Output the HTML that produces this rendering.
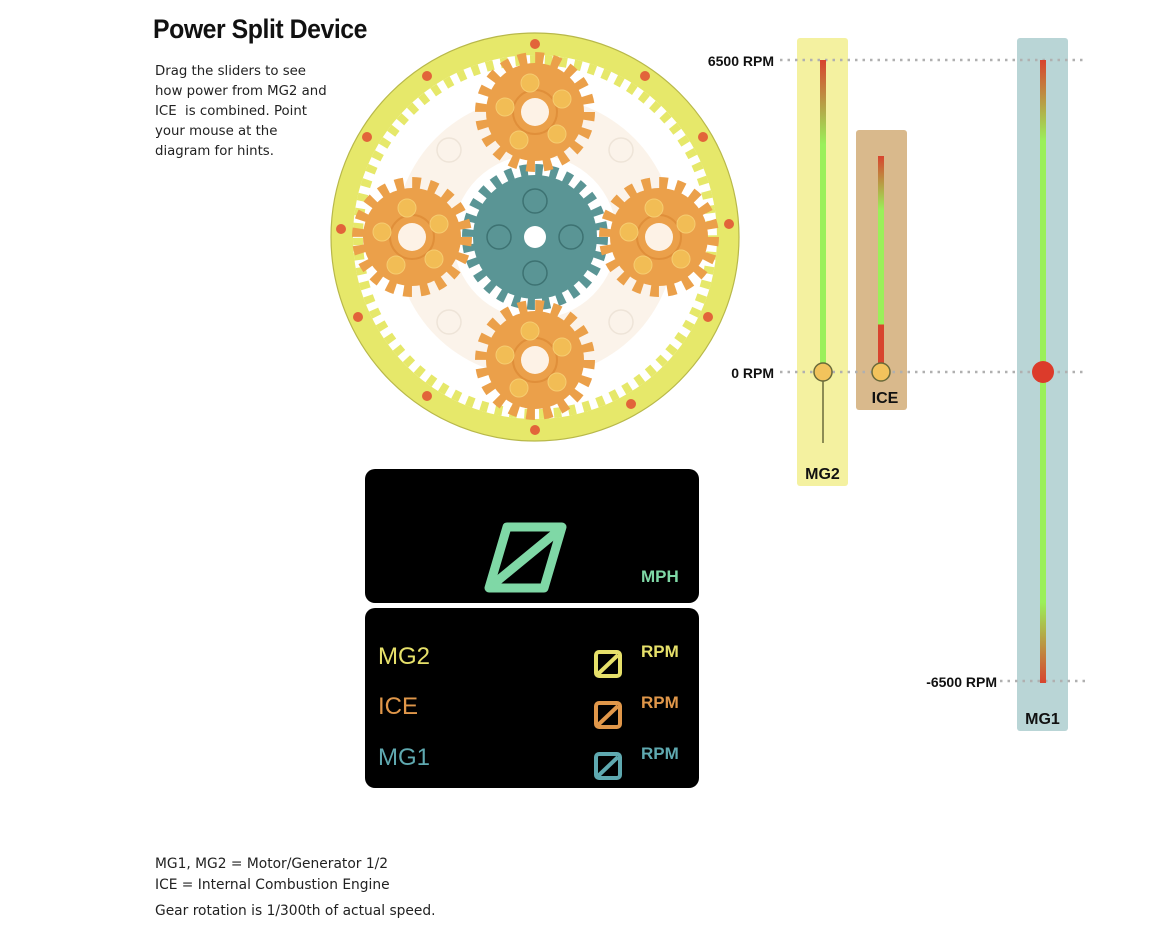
<!DOCTYPE html>
<html><head><meta charset="utf-8"><style>
body{margin:0;width:1170px;height:943px;background:#fff;position:relative;overflow:hidden;font-family:"Liberation Sans",sans-serif}
.a{position:absolute}
.t{font-family:"DejaVu Sans",sans-serif;font-size:13.8px;color:#222;line-height:20px}
.lab{font-weight:bold;font-size:14px;color:#111}
</style></head><body>
<div class="a" style="left:153px;top:14px;font-size:27px;font-weight:900;letter-spacing:-0.5px;transform:scaleX(0.92);transform-origin:left;color:#111">Power Split Device</div>
<div class="a t" style="left:155px;top:62px;width:176px;font-size:13.3px">Drag the sliders to see how power from MG2 and ICE&nbsp; is combined. Point your mouse at the diagram for hints.</div>

<svg class="a" style="left:0;top:0" width="1170" height="943">
<circle cx="535" cy="237" r="204" fill="#e6e86a" stroke="#b8b84a" stroke-width="1.2"/>
<circle cx="535" cy="237" r="182" fill="#fff"/>
<circle cx="535" cy="237" r="177" fill="none" stroke="#e6e86a" stroke-width="10" stroke-dasharray="7.4 7.4"/>
<g fill="#e2643a">
<circle cx="535" cy="44" r="5"/><circle cx="645" cy="76" r="5"/><circle cx="703" cy="137" r="5"/><circle cx="729" cy="224" r="5"/><circle cx="708" cy="317" r="5"/><circle cx="631" cy="404" r="5"/><circle cx="535" cy="430" r="5"/><circle cx="427" cy="396" r="5"/><circle cx="358" cy="317" r="5"/><circle cx="341" cy="229" r="5"/><circle cx="367" cy="137" r="5"/><circle cx="427" cy="76" r="5"/>
</g>
<circle cx="535" cy="237" r="140" fill="#fbf3ea"/>
<circle cx="535" cy="237" r="82" fill="#fff"/>
<g fill="none" stroke="#eee4d8" stroke-width="1.5">
<circle cx="449" cy="150" r="12"/><circle cx="621" cy="150" r="12"/><circle cx="449" cy="322" r="12"/><circle cx="621" cy="322" r="12"/></g>
<circle cx="535" cy="237" r="62" fill="#5a9595"/>
<circle cx="535" cy="237" r="67" fill="none" stroke="#5a9595" stroke-width="12" stroke-dasharray="7.52 7.52"/>
<g fill="none" stroke="#3d7272" stroke-width="1.5">
<circle cx="535" cy="201" r="12"/><circle cx="535" cy="273" r="12"/><circle cx="499" cy="237" r="12"/><circle cx="571" cy="237" r="12"/></g>
<circle cx="535" cy="237" r="11" fill="#fff"/>
<defs>
<g id="pl">
<circle r="49" fill="#eba04a"/>
<circle r="54" fill="none" stroke="#eba04a" stroke-width="12" stroke-dasharray="8.48 8.48"/>
<circle r="22" fill="none" stroke="#e08f3a" stroke-width="2"/>
<g fill="#f2bd55" stroke="#f6cc70" stroke-width="1"><circle cx="-5" cy="-29" r="9"/><circle cx="27" cy="-13" r="9"/><circle cx="22" cy="22" r="9"/><circle cx="-16" cy="28" r="9"/><circle cx="-30" cy="-5" r="9"/></g>
<circle r="14" fill="#fdf2e6"/>
</g></defs>
<use href="#pl" x="535" y="112"/><use href="#pl" x="412" y="237"/><use href="#pl" x="659" y="237"/><use href="#pl" x="535" y="360"/>

<defs>
<linearGradient id="g1" x1="0" y1="0" x2="0" y2="1"><stop offset="0" stop-color="#d8442e"/><stop offset="0.27" stop-color="#9af05a"/><stop offset="1" stop-color="#9af05a"/></linearGradient>
<linearGradient id="g2" x1="0" y1="0" x2="0" y2="1"><stop offset="0" stop-color="#d8442e"/><stop offset="0.25" stop-color="#9af05a"/><stop offset="0.78" stop-color="#9af05a"/><stop offset="0.78" stop-color="#d8442e"/><stop offset="1" stop-color="#d8442e"/></linearGradient>
<linearGradient id="g3" x1="0" y1="0" x2="0" y2="1"><stop offset="0" stop-color="#d8442e"/><stop offset="0.13" stop-color="#9af05a"/><stop offset="0.87" stop-color="#9af05a"/><stop offset="1" stop-color="#d8442e"/></linearGradient>
</defs>
<rect x="797" y="38" width="51" height="448" rx="3" fill="#f4f1a0"/>
<rect x="856" y="130" width="51" height="280" rx="3" fill="#d9b98c"/>
<rect x="1017" y="38" width="51" height="693" rx="3" fill="#b9d5d6"/>
<g stroke="#b0b0b0" stroke-width="2.5" stroke-dasharray="2.5 5">
<line x1="780" y1="60" x2="1085" y2="60"/><line x1="780" y1="372" x2="1085" y2="372"/><line x1="1000" y1="681" x2="1085" y2="681"/></g>
<rect x="820" y="60" width="6" height="312" fill="url(#g1)"/>
<line x1="823" y1="372" x2="823" y2="443" stroke="#6a6a3a" stroke-width="1.5"/>
<rect x="878" y="156" width="6" height="216" fill="url(#g2)"/>
<rect x="1040" y="60" width="6" height="623" fill="url(#g3)"/>
<circle cx="823" cy="372" r="9" fill="#f2c35c" stroke="#6a6a3a" stroke-width="1.5"/>
<circle cx="881" cy="372" r="9" fill="#f2c35c" stroke="#6a6a3a" stroke-width="1.5"/>
<circle cx="1043" cy="372" r="11" fill="#dc3b2b"/>
</svg>
<div class="a lab" style="left:680px;width:94px;text-align:right;top:53px">6500 RPM</div>
<div class="a lab" style="left:680px;width:94px;text-align:right;top:365px">0 RPM</div>
<div class="a lab" style="left:900px;width:97px;text-align:right;top:674px">-6500 RPM</div>
<div class="a lab" style="left:797px;width:51px;text-align:center;top:466px;font-size:16px">MG2</div>
<div class="a lab" style="left:856px;width:58px;text-align:center;top:390px;font-size:16px">ICE</div>
<div class="a lab" style="left:1017px;width:51px;text-align:center;top:711px;font-size:16px">MG1</div>

<div class="a" style="left:365px;top:469px;width:334px;height:134px;background:#000;border-radius:10px"></div>
<div class="a" style="left:365px;top:608px;width:334px;height:180px;background:#000;border-radius:10px"></div>
<svg class="a" style="left:365px;top:469px" width="334" height="320">
<g fill="none" stroke="#7fd8a6" stroke-width="9" stroke-linejoin="round" stroke-linecap="round">
<path d="M142 58 L197 58 L179 119 L124 119 Z" /><line x1="131" y1="113" x2="193" y2="62"/></g>
<g fill="none" stroke-width="4" stroke-linejoin="round">
<rect x="231" y="183" width="24" height="24" rx="3" stroke="#e6e06a"/><line x1="233" y1="205" x2="253" y2="186" stroke="#e6e06a"/>
<rect x="231" y="234" width="24" height="24" rx="3" stroke="#e0974a"/><line x1="233" y1="256" x2="253" y2="237" stroke="#e0974a"/>
<rect x="231" y="285" width="24" height="24" rx="3" stroke="#5fa9b0"/><line x1="233" y1="307" x2="253" y2="288" stroke="#5fa9b0"/>
</g></svg>
<div class="a" style="left:641px;top:567px;font-weight:bold;font-size:17px;color:#7fd8a6">MPH</div>
<div class="a" style="left:378px;top:643px;font-size:24px;color:#e6e06a">MG2</div>
<div class="a" style="left:378px;top:693px;font-size:24px;color:#e0974a">ICE</div>
<div class="a" style="left:378px;top:744px;font-size:24px;color:#5fa9b0">MG1</div>
<div class="a" style="left:641px;top:642px;font-weight:bold;font-size:17px;color:#e6e06a">RPM</div>
<div class="a" style="left:641px;top:693px;font-weight:bold;font-size:17px;color:#e0974a">RPM</div>
<div class="a" style="left:641px;top:744px;font-weight:bold;font-size:17px;color:#5fa9b0">RPM</div>

<div class="a t" style="left:155px;top:854px">MG1, MG2 = Motor/Generator 1/2</div>
<div class="a t" style="left:155px;top:875px">ICE = Internal Combustion Engine</div>
<div class="a t" style="left:155px;top:901px">Gear rotation is 1/300th of actual speed.</div>
</body></html>
